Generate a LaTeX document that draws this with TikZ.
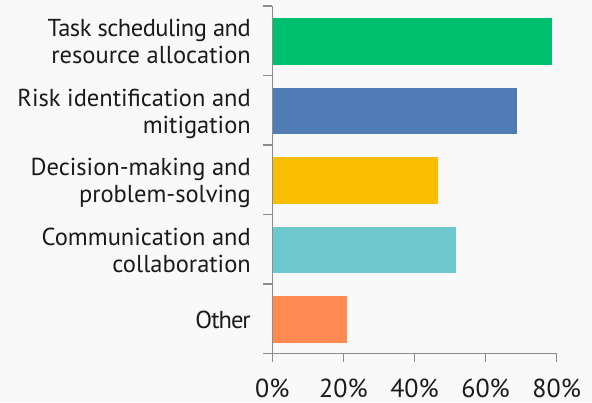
\documentclass[tikz,border=0pt]{standalone}
\usepackage{fontspec}
\setmainfont{PT Sans}
\newcommand{\catlines}[1]{\begin{tabular}[t]{@{}r@{}}#1\end{tabular}}
\begin{document}
\begin{tikzpicture}[x=1pt,y=-1pt,
  axisline/.style={draw=axisgray,line width=1.4pt},
  catlabel/.style={anchor=base east,font=\fontsize{24.5}{26.7}\selectfont,text=textcol,inner sep=0pt},
  ticklabel/.style={anchor=base,font=\fontsize{26}{30}\selectfont,text=textcol,inner sep=0pt}]
\definecolor{bg}{HTML}{F9F9F9}
\definecolor{axisgray}{HTML}{8C8C8C}
\definecolor{textcol}{HTML}{1A1A1A}
\definecolor{cgreen}{HTML}{00BF6F}
\definecolor{cblue}{HTML}{4F7CB4}
\definecolor{cyellow}{HTML}{F9BE00}
\definecolor{ccyan}{HTML}{6CC8CC}
\definecolor{corange}{HTML}{FF8B52}
\fill[bg] (0,0) rectangle (592,402);
\useasboundingbox (0,0) rectangle (592,402);
% bars
\fill[cgreen]  (272.3,18)    rectangle (551.7,64.7);
\fill[cblue]   (272.3,87.5)  rectangle (517,134.2);
\fill[cyellow] (272.3,157)   rectangle (437.7,203.7);
\fill[ccyan]   (272.3,226.5) rectangle (456,273.2);
\fill[corange] (272.3,296)   rectangle (347,342.7);
% axes
\coordinate (o) at (272.3,353.5);
\coordinate (top) at (272.3,6);
\coordinate (xend) at (556.7,353.5);
\draw[axisline] (top) -- (o) -- (xend);
\foreach \y in {6,75.5,145,214.5,284,353.5}
  \draw[axisline] (263,\y) -- (272.3,\y);
\foreach \i/\x in {0/272.3,20/343.4,40/414.5,60/485.6,80/556.7}{
  \draw[axisline] (\x,353.5) -- (\x,362);
  \node[ticklabel] (t\i) at (\x,397.5) {\i\%};
}
% labels
\node[catlabel] (l1) at (251,36.6) {\catlines{{\addfontfeature{LetterSpace=-2}Task scheduling and}\\resource allocation}};
\node[catlabel] (l2) at (251,106.5) {\catlines{Risk identification and\\mitigation}};
\node[catlabel] (l3) at (251,175.9) {\catlines{Decision-making and\\problem-solving}};
\node[catlabel] (l4) at (251,245.4) {\catlines{Communication and\\collaboration}};
\node[catlabel] (l5) at (251,328.3) {\addfontfeature{LetterSpace=-4}Other};
\end{tikzpicture}
\end{document}
